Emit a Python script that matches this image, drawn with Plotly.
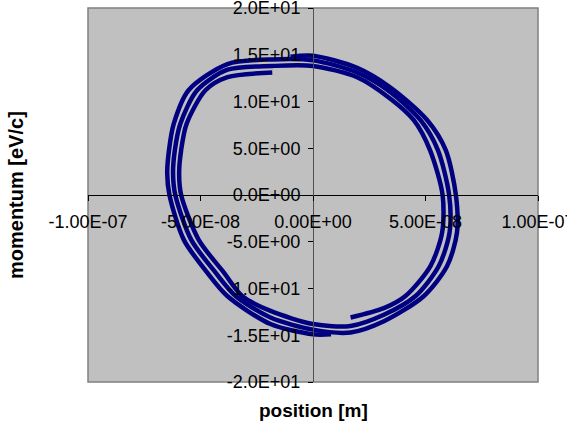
import plotly.graph_objects as go

# Trajectory 1 (position in nm, momentum in eV/c)
traj1_x_nm = [8, 0, -18.9, -38.1, -47, -57.4, -63.8, -64.8, -64.0, -61.9, -55.3, -38, -18,
              0, 19.6, 34.4, 47.8, 55.5, 60.5, 60.7, 55.9, 45.6, 31.5, 16.7,
              0, -18.9, -31.5, -39.6, -50.8, -58.6, -59.5, -58.6, -56.2, -47.8, -38, -18.1]
traj1_p = [-14.9, -14.9, -13.8, -10.8, -8.3, -4.8, 0, 2.3, 4.8, 7.6, 11.2, 14.0, 14.5,
           14.4, 13.1, 11.0, 8.0, 4.8, 0, -4.0, -7.6, -10.8, -12.8, -14.0,
           -13.8, -12.4, -10.8, -8.3, -4.8, 0, 2.3, 4.8, 7.6, 11.2, 12.6, 13.1]

# Trajectory 2
traj2_x_nm = [-10, 0, 19.6, 34.4, 50.8, 59, 63.5, 64, 59.6, 49.3, 31.5, 16.7,
              0, -18.9, -34.4, -43.3, -54.1, -61.2, -62.2, -61.4, -59.0, -51.5, -38, -18,
              0, 19.6, 34.4, 44.8, 52, 57.6, 57.4, 52.2, 41.1, 31.5, 16.7]
traj2_p = [14.8, 14.9, 13.6, 11.5, 8.0, 4.8, 0, -4.0, -7.6, -10.8, -13.5, -14.7,
           -14.4, -13.1, -10.8, -8.3, -4.8, 0, 2.3, 4.8, 7.6, 11.2, 13.4, 13.8,
           13.8, 12.6, 10.3, 8.0, 4.8, 0, -4.0, -7.6, -10.8, -12.1, -13.1]

x_tick_vals = [-1e-7, -5e-8, 0, 5e-8, 1e-7]
x_tick_text = ["-1.00E-07", "-5.00E-08", "0.00E+00", "5.00E-08", "1.00E-07"]
y_tick_vals = [-20, -15, -10, -5, 0, 5, 10, 15, 20]
y_tick_text = ["-2.0E+01", "-1.5E+01", "-1.0E+01", "-5.0E+00", "0.0E+00",
               "5.0E+00", "1.0E+01", "1.5E+01", "2.0E+01"]

xs = [v * 1e-9 for v in traj1_x_nm] + [None] + [v * 1e-9 for v in traj2_x_nm]
ps = traj1_p + [None] + traj2_p

NAVY = "#000080"
FONT = "Liberation Sans, Arial, sans-serif"

fig = go.Figure()
fig.add_trace(go.Scatter(
    x=xs, y=ps, mode="lines",
    line=dict(color=NAVY, width=4.5, shape="spline", smoothing=0.8),
    connectgaps=False, showlegend=False, hoverinfo="skip",
))

L, R, T, B = 88, 29, 8, 46
fig.update_layout(
    width=567, height=428,
    margin=dict(l=L, r=R, t=T, b=B, autoexpand=False),
    paper_bgcolor="white", plot_bgcolor="#C0C0C0",
    font=dict(family=FONT, size=18, color="black"),
    xaxis=dict(range=[-1e-7, 1e-7], tickvals=x_tick_vals, ticktext=x_tick_text,
               showgrid=False, zeroline=False, showline=True, linecolor="black",
               linewidth=1, ticks="outside", ticklen=5, tickcolor="black",
               anchor="free", position=0.5, automargin=False,
               tickfont=dict(size=18), ticklabelstandoff=5,
               ticklabeloverflow="allow"),
    yaxis=dict(range=[-20, 20], tickvals=y_tick_vals, ticktext=y_tick_text,
               showgrid=False, zeroline=False, showline=True, linecolor="#505050",
               linewidth=1, ticks="outside", ticklen=5, tickcolor="black",
               anchor="free", position=0.5, automargin=False,
               tickfont=dict(size=18), ticklabelstandoff=4,
               ticklabeloverflow="allow"),
    shapes=[dict(type="rect", xref="paper", yref="paper", x0=0, y0=0, x1=1, y1=1,
                 line=dict(color="#808080", width=1.5), layer="below")],
    annotations=[
        dict(text="<b>position [m]</b>", xref="paper", yref="paper",
             x=0.5, y=(382 - 410) / 374, showarrow=False,
             font=dict(size=19, family=FONT), xanchor="center", yanchor="middle"),
        dict(text="<b>momentum [eV/c]</b>", xref="paper", yref="paper",
             x=(16 - 88) / 450, y=0.5, textangle=-90, showarrow=False,
             font=dict(size=20, family=FONT), xanchor="center", yanchor="middle"),
    ],
)

fig.write_html("out.html")
